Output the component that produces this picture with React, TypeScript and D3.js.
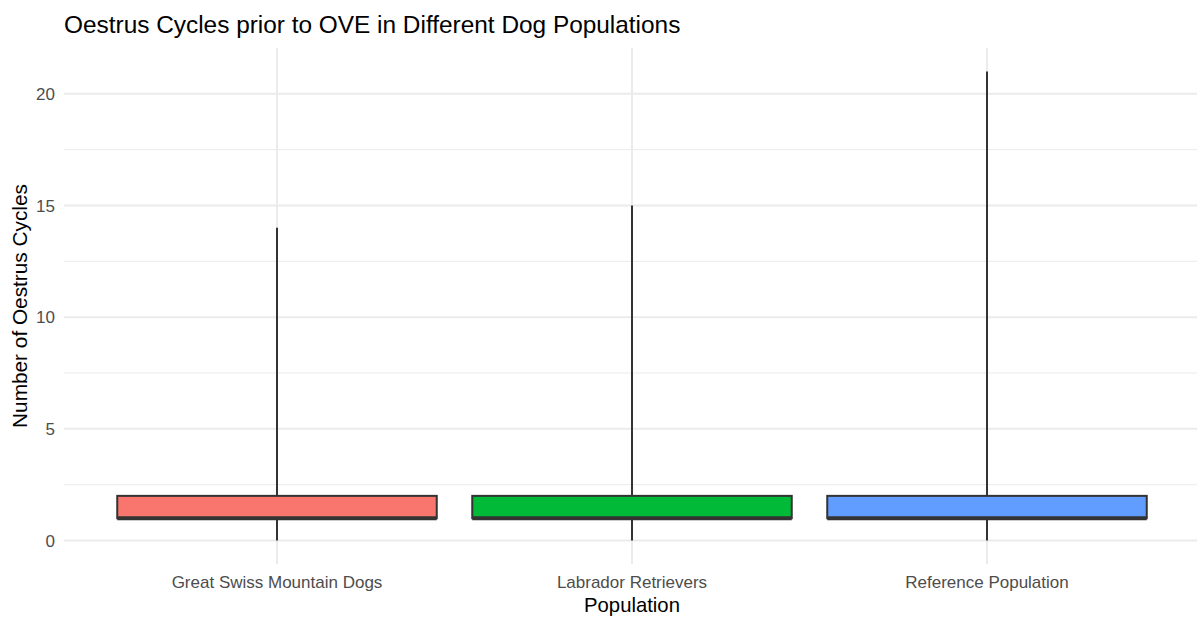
import React from "react";
import * as d3 from "d3";

// Oestrus cycles before OVE, five-number summaries per population
const populations = ["Great Swiss Mountain Dogs", "Labrador Retrievers", "Reference Population"];
const whiskerLow = [0, 0, 0];
const quartile1 = [1, 1, 1];
const medians = [1, 1, 1];
const quartile3 = [2, 2, 2];
const whiskerHigh = [14, 15, 21];
const fills = ["#F8766D", "#00BA38", "#619CFF"];
const yTicks = [0, 5, 10, 15, 20];
const yMinor = [2.5, 7.5, 12.5, 17.5];

const W = 1197;
const H = 617;
const panel = { left: 64, right: 1200, top: 48, bottom: 564 };
const FONT = "'Liberation Sans', Arial, sans-serif";

export default function App() {
  const yMax = d3.max(whiskerHigh) as number;
  const yMin = d3.min(whiskerLow) as number;
  const pad = (yMax - yMin) * 0.05;
  const y = d3.scaleLinear().domain([yMin - pad, yMax + pad]).range([panel.bottom, panel.top]);

  // discrete axis with 0.6 unit expansion on either side
  const n = populations.length;
  const xc = d3.scaleLinear().domain([1 - 0.6, n + 0.6]).range([panel.left, panel.right]);
  const step = xc(2) - xc(1);
  const boxW = step * 0.9;

  return (
    <svg width={W} height={H} style={{ position: "absolute", left: 0, top: 0, background: "#fff" }}>
      <rect x={0} y={0} width={W} height={H} fill="#fff" />
      {yMinor.map((v) => (
        <line key={"mn" + v} x1={panel.left} x2={panel.right} y1={y(v)} y2={y(v)} stroke="#EBEBEB" strokeWidth={1} />
      ))}
      {yTicks.map((v) => (
        <line key={"mj" + v} x1={panel.left} x2={panel.right} y1={y(v)} y2={y(v)} stroke="#EBEBEB" strokeWidth={2} />
      ))}
      {populations.map((p, i) => (
        <line key={"vx" + p} x1={xc(i + 1)} x2={xc(i + 1)} y1={panel.top} y2={panel.bottom} stroke="#EBEBEB" strokeWidth={2} />
      ))}
      {populations.map((p, i) => {
        const cx = xc(i + 1);
        return (
          <g key={p}>
            <line x1={cx} x2={cx} y1={y(quartile3[i])} y2={y(whiskerHigh[i])} stroke="#333333" strokeWidth={2} />
            <line x1={cx} x2={cx} y1={y(quartile1[i])} y2={y(whiskerLow[i])} stroke="#333333" strokeWidth={2} />
            <rect
              x={cx - boxW / 2}
              y={y(quartile3[i])}
              width={boxW}
              height={y(quartile1[i]) - y(quartile3[i])}
              fill={fills[i]}
              stroke="#333333"
              strokeWidth={2}
            />
            <line x1={cx - boxW / 2} x2={cx + boxW / 2} y1={y(medians[i])} y2={y(medians[i])} stroke="#333333" strokeWidth={4} />
          </g>
        );
      })}
      {yTicks.map((v) => (
        <text key={"yt" + v} x={panel.left - 9} y={y(v)} dy="0.36em" textAnchor="end" fontFamily={FONT} fontSize={17} fill="#4D4D4D">
          {v}
        </text>
      ))}
      {populations.map((p, i) => (
        <text key={"xt" + p} x={xc(i + 1)} y={588} textAnchor="middle" fontFamily={FONT} fontSize={17} fill="#4D4D4D">
          {p}
        </text>
      ))}
      <text x={xc(2)} y={612} textAnchor="middle" fontFamily={FONT} fontSize={20.3} fill="#000">
        Population
      </text>
      <text
        transform={`translate(27, ${(panel.top + panel.bottom) / 2}) rotate(-90)`}
        textAnchor="middle"
        fontFamily={FONT}
        fontSize={20.8}
        fill="#000"
      >
        Number of Oestrus Cycles
      </text>
      <text x={64} y={33} fontFamily={FONT} fontSize={24.4} fill="#000">
        Oestrus Cycles prior to OVE in Different Dog Populations
      </text>
    </svg>
  );
}
